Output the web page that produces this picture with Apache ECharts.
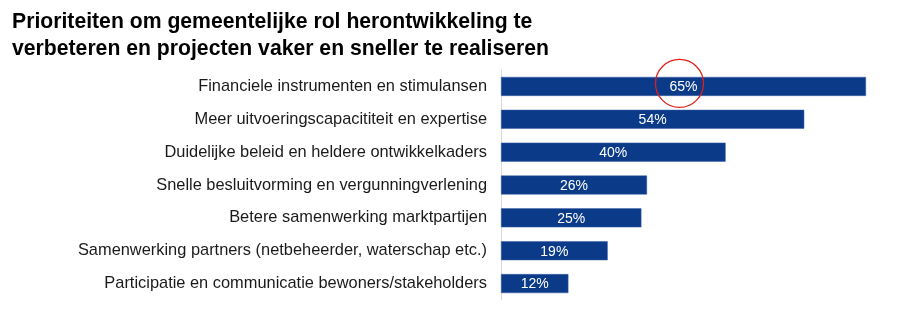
<!DOCTYPE html>
<html>
<head>
<meta charset="utf-8">
<script src="https://cdn.jsdelivr.net/npm/echarts@6/dist/echarts.min.js"></script>
<style>
  html, body { margin: 0; padding: 0; background: #fff; }
  #chart { width: 900px; height: 309px; }
</style>
</head>
<body>
<div id="chart"></div>
<script>
// categorieen en percentages
var categories = [
    'Financiele instrumenten en stimulansen',
    'Meer uitvoeringscapacititeit en expertise',
    'Duidelijke beleid en heldere ontwikkelkaders',
    'Snelle besluitvorming en vergunningverlening',
    'Betere samenwerking marktpartijen',
    'Samenwerking partners (netbeheerder, waterschap etc.)',
    'Participatie en communicatie bewoners/stakeholders'
];
var values = [65, 54, 40, 26, 25, 19, 12];

var myEchart = echarts.init(document.getElementById('chart'));
var option = {
    animation: false,
    title: {
        text: 'Prioriteiten om gemeentelijke rol herontwikkeling te\nverbeteren en projecten vaker en sneller te realiseren',
        left: 7,
        top: 4,
        textStyle: {
            color: '#000',
            fontFamily: 'Liberation Sans',
            fontSize: 21.2,
            fontWeight: 'bold',
            lineHeight: 27
        }
    },
    grid: {
        left: 501,
        right: 34,
        top: 70,
        bottom: 9
    },
    xAxis: {
        type: 'value',
        min: 0,
        max: 65,
        show: false
    },
    yAxis: {
        type: 'category',
        inverse: true,
        data: categories,
        axisLine: {
            lineStyle: { color: '#d9d9d9', width: 1 }
        },
        axisTick: { show: false },
        axisLabel: {
            margin: 14,
            padding: [3, 0, 0, 0],
            color: '#1a1a1a',
            fontFamily: 'Liberation Sans',
            fontSize: 16.4
        }
    },
    series: [{
        type: 'bar',
        data: values,
        barWidth: 19,
        itemStyle: {
            color: '#0a3a88',
            borderColor: '#3a5fa6',
            borderWidth: 0.5
        },
        label: {
            show: true,
            position: 'inside',
            offset: [0, 1],
            color: '#fff',
            fontFamily: 'Liberation Sans',
            fontSize: 14,
            formatter: '{c}%'
        },
        markPoint: {
            silent: true,
            symbol: 'circle',
            symbolSize: 48,
            symbolOffset: [-4, -3],
            itemStyle: {
                color: 'rgba(0,0,0,0)',
                borderColor: '#e0201b',
                borderWidth: 1.3
            },
            label: { show: false },
            data: [{ coord: [values[0] / 2, categories[0]] }]
        }
    }]
};
myEchart.setOption(option);
</script>
</body>
</html>
